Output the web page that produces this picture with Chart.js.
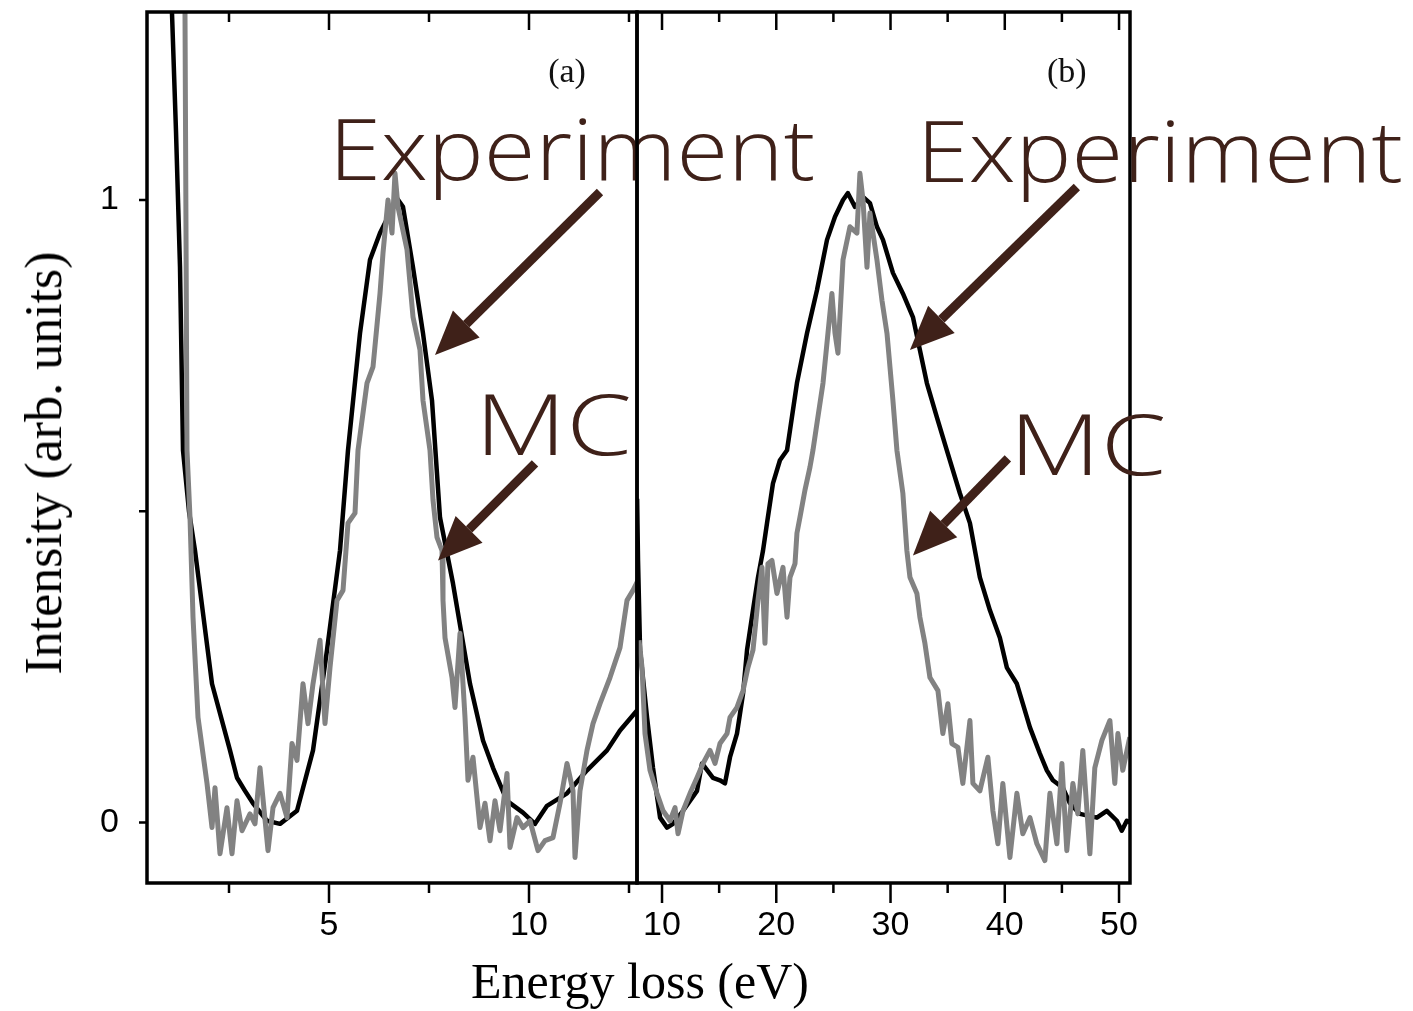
<!DOCTYPE html>
<html>
<head>
<meta charset="utf-8">
<title>Energy loss spectra</title>
<script src="https://cdn.jsdelivr.net/npm/chart.js@4.4.1/dist/chart.umd.min.js"></script>
<style>
  body { margin: 0; background: #fff; }
  #wrap { position: relative; width: 1413px; height: 1011px; overflow: hidden; background: #fff; }
  canvas { position: absolute; left: 0; top: 0; }
  .axTitle {
    position: absolute; text-align: center; white-space: nowrap; color: #000;
    font-family: "Liberation Serif", "Times New Roman", serif; line-height: 1;
  }
  #xTitle { left: 0; width: 1280px; top: 956px; font-size: 50px; }
  #yTitle { left: 44px; top: 463px; font-size: 52px; transform: translate(-50%, -50%) rotate(-90deg); }
</style>
</head>
<body>
<div id="wrap">
  <canvas id="chartA" width="1413" height="1011"></canvas>
  <canvas id="chartB" width="1413" height="1011"></canvas>
  <div id="xTitle" class="axTitle">Energy loss (eV)</div>
  <div id="yTitle" class="axTitle">Intensity (arb. units)</div>
</div>
<script>
// panel (a) - low energy range
let expAx = [1.025, 1.075, 1.175, 1.275, 1.35, 1.5, 1.65, 2.075, 2.525, 2.7, 2.9, 3.1, 3.45, 3.775, 4.2, 4.6, 4.95, 5.275, 5.475, 5.775, 6.025, 6.275, 6.525, 6.7, 6.85, 7.1, 7.35, 7.575, 7.775, 8.1, 8.525, 8.85, 9.1, 9.45, 9.85, 10.15, 10.45, 10.95, 11.45, 11.95, 12.275, 12.7];
let expAy = [1.45, 1.30, 1.11, 0.892, 0.598, 0.50, 0.437, 0.223, 0.116, 0.072, 0.051, 0.031, 0.003, -0.002, 0.019, 0.116, 0.277, 0.437, 0.598, 0.786, 0.904, 0.947, 0.979, 1.003, 0.989, 0.892, 0.786, 0.678, 0.490, 0.384, 0.223, 0.132, 0.088, 0.035, 0.016, -0.002, 0.027, 0.047, 0.084, 0.116, 0.148, 0.18];

let mcAx = [1.39, 1.4, 1.45, 1.525, 1.6, 1.725, 1.95, 2.075, 2.15, 2.275, 2.45, 2.575, 2.7, 2.825, 3.025, 3.15, 3.275, 3.475, 3.6, 3.775, 3.95, 4.075, 4.2, 4.35, 4.475, 4.6, 4.775, 4.9, 5.025, 5.2, 5.35, 5.475, 5.65, 5.725, 5.95, 6.1, 6.275, 6.35, 6.475, 6.575, 6.65, 6.725, 6.95, 7.1, 7.275, 7.35, 7.525, 7.6, 7.7, 7.825, 7.85, 7.9, 8.075, 8.15, 8.275, 8.4, 8.475, 8.6, 8.775, 8.9, 9.025, 9.15, 9.275, 9.45, 9.525, 9.7, 9.85, 10.025, 10.225, 10.4, 10.6, 10.775, 10.95, 11.1, 11.15, 11.275, 11.45, 11.6, 11.775, 12.025, 12.275, 12.45, 12.6, 12.725];
let mcAy = [1.5, 1.30, 0.598, 0.490, 0.330, 0.169, 0.063, -0.008, 0.056, -0.050, 0.024, -0.050, 0.035, -0.013, 0.014, -0.002, 0.088, -0.045, 0.024, 0.047, 0.008, 0.127, 0.100, 0.223, 0.159, 0.223, 0.293, 0.159, 0.249, 0.357, 0.373, 0.481, 0.497, 0.598, 0.706, 0.732, 0.850, 0.915, 1.0, 0.947, 1.043, 0.989, 0.920, 0.812, 0.759, 0.678, 0.598, 0.518, 0.458, 0.437, 0.357, 0.297, 0.233, 0.185, 0.304, 0.169, 0.068, 0.105, -0.008, 0.031, -0.029, 0.035, -0.013, 0.079, -0.040, 0.008, -0.008, 0.003, -0.045, -0.029, -0.024, 0.031, 0.095, 0.051, -0.056, 0.051, 0.116, 0.159, 0.191, 0.233, 0.281, 0.357, 0.373, 0.389];

// panel (b) - wide energy range
let expBx = [7.82, 7.9, 8.08, 8.69, 9.21, 9.83, 10.44, 10.96, 11.84, 13.06, 13.5, 14.46, 15.07, 15.51, 15.95, 16.56, 17.09, 17.44, 17.96, 18.4, 18.84, 19.19, 19.71, 20.32, 20.94, 21.81, 22.69, 23.56, 24.44, 25.14, 25.84, 26.27, 26.89, 27.59, 28.2, 28.81, 29.34, 30.21, 31.08, 31.96, 32.57, 33.18, 34.06, 34.93, 36.07, 36.95, 37.82, 38.7, 39.57, 40.18, 41.06, 41.58, 42.2, 43.07, 43.68, 44.21, 45.08, 45.7, 46.57, 48.06, 48.93, 49.81, 50.24, 50.68, 51.0];
let expBy = [0.52, 0.421, 0.277, 0.169, 0.088, 0.008, -0.008, -0.002, 0.019, 0.051, 0.095, 0.072, 0.068, 0.063, 0.105, 0.143, 0.207, 0.277, 0.341, 0.394, 0.437, 0.481, 0.545, 0.582, 0.598, 0.706, 0.786, 0.855, 0.936, 0.973, 1.0, 1.011, 0.989, 1.005, 0.995, 0.957, 0.936, 0.883, 0.850, 0.812, 0.759, 0.706, 0.651, 0.598, 0.529, 0.481, 0.394, 0.341, 0.297, 0.249, 0.223, 0.191, 0.153, 0.111, 0.084, 0.068, 0.056, 0.031, 0.014, 0.008, 0.019, 0.003, -0.013, 0.003, 0.0];

let mcBx = [7.99, 8.25, 8.51, 8.95, 9.56, 10.09, 10.7, 11.14, 11.4, 11.84, 12.45, 13.06, 13.59, 14.2, 14.64, 15.07, 15.69, 15.95, 16.56, 17.09, 17.52, 17.96, 18.4, 18.75, 19.01, 19.27, 19.62, 20.06, 20.59, 20.94, 21.2, 21.64, 21.81, 22.07, 22.51, 22.95, 23.21, 23.47, 24.09, 24.87, 25.14, 25.4, 25.84, 26.45, 27.06, 27.32, 27.59, 27.94, 28.2, 28.81, 29.25, 29.69, 29.95, 30.21, 30.56, 31.08, 31.43, 31.7, 32.31, 32.57, 33.01, 33.45, 34.15, 34.58, 35.02, 35.37, 35.9, 36.33, 36.95, 37.21, 37.82, 38.52, 38.96, 39.4, 39.83, 40.45, 41.06, 41.58, 42.2, 42.81, 43.51, 43.95, 44.56, 45.0, 45.43, 45.96, 46.39, 46.83, 47.45, 47.88, 48.5, 49.2, 49.63, 49.9, 50.33, 50.94];
let mcBy = [0.293, 0.249, 0.143, 0.084, 0.047, 0.019, 0.003, 0.024, -0.018, 0.019, 0.047, 0.072, 0.095, 0.116, 0.095, 0.127, 0.143, 0.169, 0.185, 0.212, 0.249, 0.277, 0.357, 0.410, 0.288, 0.416, 0.421, 0.368, 0.410, 0.330, 0.394, 0.416, 0.465, 0.490, 0.534, 0.571, 0.598, 0.630, 0.706, 0.850, 0.786, 0.754, 0.904, 0.957, 0.947, 1.043, 1.0, 0.892, 0.979, 0.904, 0.839, 0.786, 0.732, 0.678, 0.598, 0.529, 0.437, 0.394, 0.368, 0.330, 0.288, 0.233, 0.212, 0.143, 0.191, 0.127, 0.121, 0.063, 0.164, 0.063, 0.051, 0.105, 0.019, -0.034, 0.063, -0.056, 0.047, -0.018, 0.008, -0.034, -0.061, 0.047, -0.034, 0.095, -0.045, 0.063, 0.014, 0.116, -0.050, 0.088, 0.132, 0.164, 0.063, 0.143, 0.084, 0.137];

// ticks
let leftTicks = [2.5, 5, 7.5, 10, 12.5];
let leftLabels = [5, 10];
let rightTicks = [10, 15, 20, 25, 30, 35, 40, 45, 50];
let rightLabels = [10, 20, 30, 40, 50];
let yTicks = [0, 0.5, 1];
let yLabels = [0, 1];

const brown = "#3f2119";
const serif = "'Liberation Serif', 'Times New Roman', serif";
const annotFont = "300 84px 'Open Sans', 'DejaVu Sans', sans-serif";
const tickFont = { family: "'Liberation Sans', Arial, sans-serif", size: 34 };

function pts(xs, ys) {
    return xs.map((x, i) => ({ x: x, y: ys[i] }));
}

// arrow with a filled head
function drawArrow(ctx, x1, y1, x2, y2) {
    let ang = Math.atan2(y2 - y1, x2 - x1);
    let len = 44, half = 19;
    let bx = x2 - len * Math.cos(ang), by = y2 - len * Math.sin(ang);
    ctx.lineWidth = 9;
    ctx.beginPath();
    ctx.moveTo(x1, y1);
    ctx.lineTo(bx, by);
    ctx.stroke();
    ctx.beginPath();
    ctx.moveTo(x2, y2);
    ctx.lineTo(bx + half * Math.sin(ang), by - half * Math.cos(ang));
    ctx.lineTo(bx - half * Math.sin(ang), by + half * Math.cos(ang));
    ctx.closePath();
    ctx.fill();
}

// frame + tick marks
function framePlugin(showY) {
    return {
        id: "frame",
        afterDatasetsDraw(chart) {
            let { ctx, chartArea: a, scales } = chart;
            ctx.save();
            ctx.strokeStyle = "#000";
            ctx.lineWidth = 3.5;
            ctx.strokeRect(a.left, a.top, a.right - a.left, a.bottom - a.top);
            ctx.lineWidth = 2.5;
            ctx.beginPath();
            scales.x.ticks.forEach(t => {
                let px = scales.x.getPixelForValue(t.value);
                let major = t.label !== "";
                ctx.moveTo(px, a.bottom);
                ctx.lineTo(px, a.bottom + (major ? 20 : 10));
                ctx.moveTo(px, a.top);
                ctx.lineTo(px, a.top + (major ? 18 : 10));
            });
            if (showY) {
                scales.y.ticks.forEach(t => {
                    let py = scales.y.getPixelForValue(t.value);
                    ctx.moveTo(a.left, py);
                    ctx.lineTo(a.left - 8, py);
                });
            }
            ctx.stroke();
            ctx.restore();
        }
    };
}

// text labels and arrows, placed in data units
function annotPlugin(spec) {
    return {
        id: "annot",
        afterDraw(chart) {
            let { ctx, scales: { x, y } } = chart;
            ctx.save();
            ctx.fillStyle = brown;
            ctx.strokeStyle = brown;
            ctx.font = annotFont;
            ctx.textBaseline = "alphabetic";
            ctx.textAlign = "left";
            spec.texts.forEach(t => {
                ctx.save();
                ctx.translate(x.getPixelForValue(t.x), y.getPixelForValue(t.y));
                ctx.scale(t.sx, 1);
                ctx.fillText(t.text, 0, 0);
                ctx.restore();
            });
            spec.arrows.forEach(r => {
                drawArrow(ctx, x.getPixelForValue(r[0]), y.getPixelForValue(r[1]),
                    x.getPixelForValue(r[2]), y.getPixelForValue(r[3]));
            });
            ctx.fillStyle = "#111";
            ctx.font = "34px " + serif;
            ctx.textAlign = "center";
            ctx.textBaseline = "middle";
            ctx.fillText(spec.label.text, x.getPixelForValue(spec.label.x), y.getPixelForValue(spec.label.y));
            ctx.restore();
        }
    };
}

function datasets(ex, ey, mx, my) {
    return [
        { label: "MC", data: pts(mx, my), borderColor: "#828282", borderWidth: 5, order: 0 },
        { label: "Experiment", data: pts(ex, ey), borderColor: "#000", borderWidth: 4.5, order: 1 }
    ];
}

function xScale(min, max, ticks, labels) {
    return {
        type: "linear",
        min: min,
        max: max,
        afterBuildTicks: s => { s.ticks = ticks.map(v => ({ value: v })); },
        afterFit: s => { s.height = 128; s.paddingLeft = 0; s.paddingRight = 0; },
        grid: { display: false, drawTicks: false },
        border: { display: false },
        ticks: {
            autoSkip: false,
            maxRotation: 0,
            padding: 22,
            color: "#000",
            font: tickFont,
            callback: v => labels.includes(v) ? String(v) : ""
        }
    };
}

const baseOpts = {
    responsive: false,
    animation: false,
    parsing: false,
    elements: { point: { radius: 0 }, line: { tension: 0, borderJoinStyle: "round" } },
    plugins: { legend: { display: false }, tooltip: { enabled: false } }
};

// chart (a)
new Chart(document.getElementById("chartA"), {
    type: "line",
    data: { datasets: datasets(expAx, expAy, mcAx, mcAy) },
    options: Object.assign({}, baseOpts, {
        layout: { padding: { left: 0, top: 12, right: 776, bottom: 0 } },
        scales: {
            x: xScale(0.45, 12.7, leftTicks, leftLabels),
            y: {
                type: "linear",
                min: -0.097,
                max: 1.302,
                afterBuildTicks: s => { s.ticks = yTicks.map(v => ({ value: v })); },
                afterFit: s => { s.width = 147; s.paddingTop = 0; s.paddingBottom = 0; },
                grid: { display: false, drawTicks: false },
                border: { display: false },
                ticks: {
                    padding: 28,
                    color: "#000",
                    font: tickFont,
                    callback: v => yLabels.includes(v) ? String(v) : ""
                }
            }
        }
    }),
    plugins: [
        framePlugin(true),
        annotPlugin({
            texts: [{ text: "Experiment", x: 5.0, y: 1.032, sx: 1.12 }, { text: "MC", x: 8.65, y: 0.59, sx: 1.26 }],
            arrows: [[11.775, 1.013, 7.65, 0.751], [10.15, 0.577, 7.725, 0.421]],
            label: { text: "(a)", x: 10.95, y: 1.204 }
        })
    ]
});

// chart (b)
new Chart(document.getElementById("chartB"), {
    type: "line",
    data: { datasets: datasets(expBx, expBy, mcBx, mcBy) },
    options: Object.assign({}, baseOpts, {
        layout: { padding: { left: 637, top: 12, right: 283, bottom: 0 } },
        scales: {
            x: xScale(7.81, 50.96, rightTicks, rightLabels),
            y: { type: "linear", display: false, min: -0.097, max: 1.302 }
        }
    }),
    plugins: [
        framePlugin(false),
        annotPlugin({
            texts: [{ text: "Experiment", x: 32.3, y: 1.029, sx: 1.12 }, { text: "MC", x: 40.4, y: 0.558, sx: 1.26 }],
            arrows: [[46.31, 1.021, 31.7, 0.759], [40.27, 0.585, 31.96, 0.429]],
            label: { text: "(b)", x: 45.43, y: 1.204 }
        })
    ]
});
</script>
</body>
</html>
